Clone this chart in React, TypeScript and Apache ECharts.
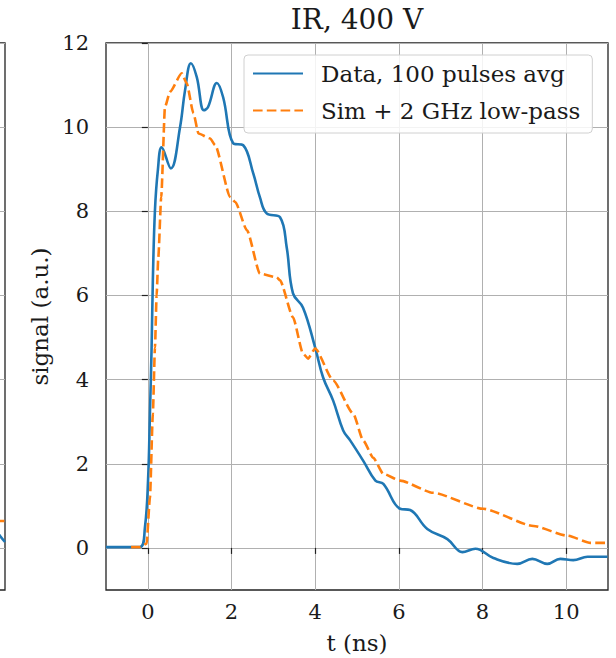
import React, { useEffect, useRef } from "react";
import * as echarts from "echarts";

// ---- data ----
const blueT = [-1.0, -0.19, -0.07, 0.005, 0.05, 0.09, 0.12, 0.17, 0.24, 0.33, 0.55, 0.77, 0.89, 1.03, 1.17, 1.34, 1.44, 1.65, 1.8, 2.04, 2.28, 2.52, 2.68, 2.84, 3.16, 3.32, 3.47, 3.71, 4.0, 4.19, 4.43, 4.67, 4.84, 5.15, 5.44, 5.63, 6.03, 6.27, 6.68, 7.16, 7.52, 7.83, 8.26, 8.83, 9.19, 9.55, 9.86, 10.17, 10.51, 10.99];
const blueV = [0.02, 0.02, 0.48, 1.6, 3.19, 4.76, 6.36, 8.02, 8.98, 9.52, 9.02, 10.0, 10.88, 11.52, 11.19, 10.4, 10.48, 11.05, 10.71, 9.62, 9.57, 8.9, 8.33, 7.95, 7.86, 7.14, 6.05, 5.71, 4.76, 4.05, 3.5, 2.79, 2.55, 2.07, 1.6, 1.52, 0.93, 0.9, 0.45, 0.21, -0.1, -0.02, -0.24, -0.38, -0.26, -0.38, -0.26, -0.29, -0.21, -0.21];

const orangeT = [-0.4, -0.19, -0.03, 0.05, 0.12, 0.17, 0.21, 0.25, 0.32, 0.41, 0.53, 0.81, 0.93, 1.09, 1.21, 1.49, 1.61, 1.97, 2.09, 2.37, 2.68, 3.08, 3.16, 3.47, 3.71, 3.83, 4.0, 4.43, 4.91, 5.15, 5.39, 5.63, 6.03, 6.82, 8.02, 9.22, 10.03, 10.58, 10.99];
const orangeV = [0.02, 0.02, 0.1, 1.19, 3.19, 4.76, 6.0, 6.9, 8.34, 10.48, 10.84, 11.28, 11.04, 10.33, 9.85, 9.73, 9.57, 8.34, 8.22, 7.55, 6.52, 6.43, 6.36, 5.48, 4.62, 4.5, 4.74, 3.98, 3.19, 2.55, 2.14, 1.76, 1.6, 1.31, 0.93, 0.52, 0.29, 0.12, 0.12];

// tail of neighbouring (cropped) panel
const leftBlueT = [10.4, 10.7, 11.0];
const leftBlueV = [0.45, 0.29, 0.14];
const leftOrangeT = [10.4, 11.0];
const leftOrangeV = [0.64, 0.64];

const xTicks = [0, 2, 4, 6, 8, 10];
const yTicks = [0, 2, 4, 6, 8, 10, 12];

const titleText = "IR, 400 V";
const xName = "t (ns)";
const yName = "signal (a.u.)";
const seriesNames = ["Data, 100 pulses avg", "Sim + 2 GHz low-pass"];

const zip = (a: number[], b: number[]) => a.map((v, i) => [v, b[i]]);

const FONT = "DejaVu Serif";
const BLUE = "#1f77b4";
const ORANGE = "#ff7f0e";
const GRID = "#b0b0b0";
const TXT = "#1a1a1a";

export default function App() {
  const ref = useRef<HTMLDivElement>(null);
  useEffect(() => {
    if (!ref.current) return;
    const chart = echarts.init(ref.current, null, { renderer: "svg" });
    const option: any = {
      animation: false,
      backgroundColor: "#fff",
      textStyle: { fontFamily: FONT },
      title: {
        text: titleText,
        left: 357,
        top: 5,
        textAlign: "center",
        padding: 0,
        textStyle: { fontFamily: FONT, fontSize: 28, fontWeight: "normal", color: TXT },
      },
      legend: {
        data: seriesNames,
        orient: "vertical",
        left: 244,
        top: 55,
        padding: [7, 12, 11, 8],
        itemWidth: 50,
        itemHeight: 22,
        itemGap: 14,
        backgroundColor: "rgba(255,255,255,0.85)",
        borderColor: "#d0d0d0",
        borderWidth: 1,
        borderRadius: 4,
        itemStyle: { opacity: 0 },
        textStyle: { fontFamily: FONT, fontSize: 23, color: TXT, lineHeight: 22, padding: [0, 0, 0, 13] },
      },
      grid: [
        {
          left: 106, top: 43, width: 502, height: 547, outerBoundsMode: "none",
          show: true, borderColor: "#222", borderWidth: 1.3, backgroundColor: "transparent",
        },
        {
          left: -200, top: 43, width: 205, height: 547, outerBoundsMode: "none",
          show: true, borderColor: "#222", borderWidth: 1.3, backgroundColor: "transparent",
        },
      ],
      xAxis: [
        {
          type: "value", gridIndex: 0, min: -1, max: 11,
          name: xName, nameLocation: "middle", nameGap: 41,
          nameTextStyle: { fontFamily: FONT, fontSize: 23, color: TXT },
          axisLine: { show: false },
          axisTick: { show: true, length: 6, inside: false, lineStyle: { color: "#222", width: 1.2 }, customValues: xTicks },
          axisLabel: { fontFamily: FONT, fontSize: 21, color: TXT, margin: 11, customValues: xTicks },
          splitLine: { show: true, lineStyle: { color: GRID, width: 1 } },
        },
        {
          type: "value", gridIndex: 1, min: -1, max: 11,
          axisLine: { show: false }, axisTick: { show: false }, axisLabel: { show: false },
          splitLine: { show: false },
        },
      ],
      yAxis: [
        {
          type: "value", gridIndex: 0, min: -1, max: 12,
          name: yName, nameLocation: "middle", nameGap: 53,
          nameTextStyle: { fontFamily: FONT, fontSize: 23, color: TXT },
          axisLine: { show: false },
          axisTick: { show: true, length: 6, inside: false, lineStyle: { color: "#222", width: 1.2 }, customValues: yTicks },
          axisLabel: { fontFamily: FONT, fontSize: 21, color: TXT, margin: 17, customValues: yTicks },
          splitLine: { show: true, lineStyle: { color: GRID, width: 1 } },
        },
        {
          type: "value", gridIndex: 1, min: -1, max: 12,
          axisLine: { show: false },
          axisTick: { show: false, customValues: yTicks },
          axisLabel: { show: false, customValues: yTicks },
          splitLine: { show: true, lineStyle: { color: GRID, width: 1 } },
        },
      ],
      series: [
        {
          name: seriesNames[0], type: "line", xAxisIndex: 0, yAxisIndex: 0,
          data: zip(blueT, blueV), showSymbol: false, symbol: "none",
          smooth: 0.4,
          lineStyle: { color: BLUE, width: 2.6 }, itemStyle: { color: BLUE }, z: 3,
        },
        {
          name: seriesNames[1], type: "line", xAxisIndex: 0, yAxisIndex: 0,
          data: zip(orangeT, orangeV), showSymbol: false, symbol: "none",
          smooth: 0.2, smoothMonotone: "x",
          lineStyle: { color: ORANGE, width: 2.6, type: [9.6, 4.2] }, itemStyle: { color: ORANGE }, z: 4,
        },
        {
          name: "leftOrange", type: "line", xAxisIndex: 1, yAxisIndex: 1,
          data: zip(leftOrangeT, leftOrangeV), showSymbol: false, symbol: "none",
          lineStyle: { color: ORANGE, width: 2.6, type: [9.6, 4.2] },
        },
        {
          name: "leftBlue", type: "line", xAxisIndex: 1, yAxisIndex: 1,
          data: zip(leftBlueT, leftBlueV), showSymbol: false, symbol: "none", smooth: 0.3,
          lineStyle: { color: BLUE, width: 2.6 },
        },
      ],
    };
    chart.setOption(option);
    return () => chart.dispose();
  }, []);
  return (
    <div
      ref={ref}
      style={{ position: "absolute", left: 0, top: 0, width: 616, height: 658 }}
    />
  );
}
